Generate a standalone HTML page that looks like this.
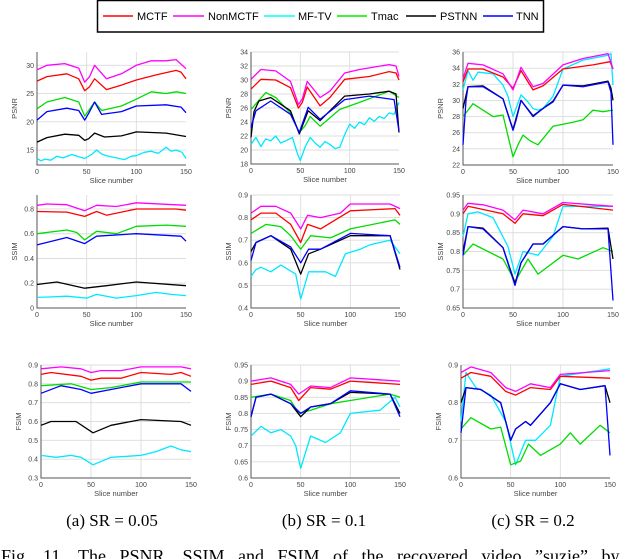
<!DOCTYPE html>
<html><head><meta charset="utf-8"><style>
html,body{margin:0;padding:0;background:#fff;width:640px;height:559px;overflow:hidden}
svg{display:block}
text{font-family:"Liberation Sans",sans-serif}
.serif{font-family:"Liberation Serif",serif}
</style></head><body>
<svg id="fig" width="640" height="559" viewBox="0 0 640 559" xmlns="http://www.w3.org/2000/svg">
<g>
<rect x="97.5" y="0.5" width="446" height="31.5" fill="#fff" stroke="#000" stroke-width="1.5"/>
<g><line x1="103" y1="16" x2="133" y2="16" stroke="#ff0000" stroke-width="1.5"/><text x="137" y="20" font-size="11">MCTF</text></g>
<g><line x1="173" y1="16" x2="204" y2="16" stroke="#ff00ff" stroke-width="1.5"/><text x="208" y="20" font-size="11">NonMCTF</text></g>
<g><line x1="264" y1="16" x2="295" y2="16" stroke="#00ffff" stroke-width="1.5"/><text x="298" y="20" font-size="11">MF-TV</text></g>
<g><line x1="337" y1="16" x2="367" y2="16" stroke="#00ee00" stroke-width="1.5"/><text x="371" y="20" font-size="11">Tmac</text></g>
<g><line x1="406" y1="16" x2="436" y2="16" stroke="#000" stroke-width="1.5"/><text x="440" y="20" font-size="11">PSTNN</text></g>
<g><line x1="483" y1="16" x2="513" y2="16" stroke="#0000ff" stroke-width="1.5"/><text x="516" y="20" font-size="11">TNN</text></g>
</g>
<text class="serif" x="112" y="526" font-size="17" text-anchor="middle">(a) SR = 0.05</text>
<text class="serif" x="324" y="526" font-size="17" text-anchor="middle">(b) SR = 0.1</text>
<text class="serif" x="533" y="526" font-size="17" text-anchor="middle">(c) SR = 0.2</text>
<text class="serif" x="1" y="562" font-size="18" word-spacing="9">Fig. 11.  The PSNR, SSIM and FSIM of the recovered video ”suzie” by</text>
</svg>
<script>
// ---- data (slice number, metric value) ----
const xTicks = [0, 50, 100, 150];
const methods = ["MCTF","NonMCTF","MF-TV","Tmac","PSTNN","TNN"];
const colors = ["#ff0000","#ff00ff","#00e8ff","#00dd00","#000000","#0000ff"];

const psnrA_MCTF = [[0,27.2],[10,28],[30,28.5],[42,27.6],[48,25.5],[53,26.2],[58,27.6],[70,25.7],[85,26.5],[100,27.4],[120,28.3],[140,29.1],[145,28.8],[150,27.6]];
const psnrA_Non = [[0,29.2],[10,30],[28,30.3],[42,29.5],[48,27],[53,28],[58,30],[70,27.6],[85,28.5],[100,30],[115,30.8],[130,30.8],[140,31],[150,29.4]];
const psnrA_MFTV = [[0,13.5],[4,13.1],[8,13.4],[14,13.2],[20,13.9],[26,13.6],[35,14.2],[42,13.8],[48,13.5],[55,14.2],[60,15],[65,14.3],[70,14],[80,13.6],[88,13.3],[95,13.9],[100,14],[108,14.6],[115,14.8],[122,14.4],[130,15.5],[135,14.8],[140,15],[146,14.6],[150,13.5]];
const psnrA_Tmac = [[0,22.3],[10,23.5],[28,24.3],[42,23.5],[48,21],[52,22],[58,23.5],[65,22],[85,22.8],[100,24],[115,25.3],[130,25],[140,25.3],[150,25]];
const psnrA_PSTNN = [[0,16.4],[10,17.2],[28,17.8],[42,17.6],[48,16.7],[52,17],[58,18],[68,17.3],[85,17.5],[100,18.2],[130,18],[150,17.4]];
const psnrA_TNN = [[0,20.3],[10,21.8],[30,22.4],[42,22],[48,20.3],[52,21.5],[58,23.5],[65,21.3],[85,21.8],[100,22.8],[130,23],[145,22.6],[150,21.6]];

const psnrB_MCTF = [[0,28.7],[10,30.1],[25,30],[40,28.9],[48,26],[52,26.8],[57,29],[70,26.3],[80,27.5],[95,30.1],[120,30.5],[140,31.2],[147,31],[150,30]];
const psnrB_Non = [[0,30.1],[10,31.5],[25,31.3],[40,29.8],[48,26.5],[52,27.3],[57,29.8],[70,27.5],[80,28.4],[95,31],[110,31.5],[140,32.2],[147,32],[150,30.5]];
const psnrB_MFTV = [[0,20.8],[5,21.8],[10,20.5],[15,21.6],[20,21.3],[25,22],[30,21],[35,21.3],[42,21.8],[47,19.5],[50,18.5],[55,20.5],[60,21.8],[65,21],[70,20.4],[75,21.2],[80,20.8],[85,20.2],[90,20.4],[95,22.2],[100,23.7],[105,23.1],[110,24],[115,23.6],[120,24.6],[125,24.1],[130,24.8],[135,24.5],[140,25.3],[145,25.1],[150,26.8]];
const psnrB_Tmac = [[0,25.8],[15,28.2],[25,27.5],[40,25.3],[49,22.5],[55,23.5],[60,24.8],[70,23.4],[90,25.8],[110,26.8],[140,28.4],[150,27.5]];
const psnrB_PSTNN = [[0,21.8],[3,25.5],[8,27],[20,27.5],[40,25.6],[49,22.3],[58,25.6],[70,24.2],[95,27.7],[120,28],[140,28.4],[147,28],[150,22.5]];
const psnrB_TNN = [[0,23.2],[5,25.6],[20,27],[40,25.1],[49,22.5],[58,26.1],[70,24.4],[95,27.2],[120,27.7],[145,27.2],[150,22.7]];

const psnrC_MCTF = [[0,32.3],[5,33.9],[20,33.9],[40,32.9],[50,31.5],[58,33.7],[70,31.3],[80,31.8],[100,33.9],[130,34.4],[147,34.8],[150,33.9]];
const psnrC_Non = [[0,32.7],[5,34.6],[20,34.4],[40,33.3],[50,31.3],[58,34.1],[70,31.7],[80,32.1],[100,34.4],[120,35.2],[145,35.8],[150,33.9]];
const psnrC_MFTV = [[0,31.3],[5,33.7],[10,32.5],[15,33.5],[30,33.3],[40,31.9],[45,30.5],[50,28],[53,29],[58,30.7],[65,29.8],[70,29],[75,28.8],[80,29],[90,30.5],[100,33.9],[120,35],[145,35.6],[148,35.8],[150,31.9]];
const psnrC_Tmac = [[0,28],[10,29.6],[30,28],[40,28.2],[50,23],[55,24.5],[60,25.7],[67,25],[75,24.5],[90,26.8],[110,27.3],[120,27.6],[130,28.8],[140,28.6],[150,28.8]];
const psnrC_PSTNN = [[0,29],[5,31.7],[20,31.8],[40,30.2],[50,26.4],[58,30],[70,28.1],[90,29.9],[100,31.9],[120,31.8],[145,32.4],[148,31.5],[150,30]];
const psnrC_TNN = [[0,24.5],[3,30],[5,31.7],[20,31.7],[40,30.2],[50,26.3],[53,27.5],[58,30],[70,28],[80,29],[90,29.8],[100,31.9],[120,31.7],[145,32.3],[148,31],[150,24.5]];

const ssimA_MCTF = [[0,0.78],[30,0.775],[48,0.74],[60,0.78],[70,0.75],[100,0.8],[140,0.8],[150,0.79]];
const ssimA_Non = [[0,0.83],[10,0.84],[30,0.835],[48,0.786],[60,0.83],[80,0.82],[100,0.85],[150,0.83]];
const ssimA_MFTV = [[0,0.086],[15,0.09],[30,0.095],[50,0.08],[60,0.11],[80,0.08],[100,0.1],[120,0.126],[135,0.11],[150,0.1]];
const ssimA_Tmac = [[0,0.6],[30,0.63],[40,0.61],[48,0.55],[60,0.62],[80,0.6],[100,0.66],[130,0.67],[150,0.66]];
const ssimA_PSTNN = [[0,0.19],[20,0.21],[48,0.16],[70,0.18],[100,0.21],[150,0.18]];
const ssimA_TNN = [[0,0.51],[30,0.57],[48,0.52],[60,0.58],[100,0.6],[145,0.58],[150,0.54]];

const ssimB_MCTF = [[0,0.79],[10,0.82],[25,0.82],[40,0.77],[50,0.69],[57,0.77],[70,0.75],[100,0.83],[145,0.84],[150,0.81]];
const ssimB_Non = [[0,0.82],[10,0.85],[25,0.85],[40,0.82],[50,0.75],[57,0.81],[70,0.8],[90,0.82],[100,0.86],[140,0.86],[150,0.84]];
const ssimB_MFTV = [[0,0.54],[5,0.57],[10,0.58],[20,0.56],[30,0.59],[45,0.55],[50,0.44],[58,0.56],[75,0.56],[85,0.54],[95,0.64],[110,0.66],[120,0.68],[140,0.7],[150,0.64]];
const ssimB_Tmac = [[0,0.73],[15,0.77],[30,0.76],[40,0.72],[50,0.66],[60,0.72],[80,0.71],[100,0.75],[145,0.79],[150,0.77]];
const ssimB_PSTNN = [[0,0.65],[5,0.69],[20,0.72],[40,0.66],[50,0.55],[58,0.64],[70,0.66],[100,0.72],[140,0.72],[150,0.57]];
const ssimB_TNN = [[0,0.61],[5,0.69],[20,0.72],[40,0.67],[50,0.6],[58,0.66],[70,0.66],[100,0.73],[140,0.72],[150,0.58]];

const ssimC_MCTF = [[0,0.9],[5,0.92],[40,0.9],[52,0.875],[60,0.9],[80,0.895],[100,0.925],[150,0.91]];
const ssimC_Non = [[0,0.91],[5,0.928],[20,0.924],[40,0.91],[52,0.884],[60,0.91],[80,0.9],[100,0.93],[150,0.92]];
const ssimC_MFTV = [[0,0.84],[5,0.9],[15,0.905],[30,0.89],[45,0.813],[52,0.74],[60,0.8],[75,0.79],[90,0.84],[100,0.92],[150,0.92]];
const ssimC_Tmac = [[0,0.79],[10,0.82],[40,0.78],[52,0.72],[65,0.78],[75,0.74],[100,0.79],[115,0.78],[140,0.81],[150,0.8]];
const ssimC_PSTNN = [[0,0.8],[5,0.866],[20,0.862],[40,0.81],[52,0.715],[58,0.77],[70,0.82],[80,0.82],[100,0.866],[120,0.86],[145,0.862],[150,0.78]];
const ssimC_TNN = [[0,0.79],[5,0.866],[20,0.86],[40,0.81],[52,0.71],[58,0.77],[70,0.82],[80,0.82],[100,0.866],[120,0.86],[145,0.86],[150,0.67]];

const fsimA_MCTF = [[0,0.85],[10,0.86],[40,0.84],[50,0.82],[60,0.83],[80,0.83],[100,0.86],[130,0.85],[140,0.86],[150,0.84]];
const fsimA_Non = [[0,0.88],[20,0.89],[40,0.88],[50,0.86],[60,0.87],[80,0.87],[100,0.89],[140,0.89],[150,0.88]];
const fsimA_MFTV = [[0,0.42],[15,0.41],[30,0.42],[40,0.41],[52,0.37],[70,0.41],[100,0.42],[115,0.44],[130,0.47],[140,0.45],[150,0.44]];
const fsimA_Tmac = [[0,0.79],[30,0.8],[50,0.77],[70,0.78],[100,0.81],[150,0.81]];
const fsimA_PSTNN = [[0,0.58],[10,0.6],[35,0.6],[52,0.54],[70,0.58],[100,0.61],[140,0.6],[150,0.58]];
const fsimA_TNN = [[0,0.75],[20,0.79],[40,0.77],[50,0.75],[70,0.77],[100,0.8],[140,0.8],[150,0.76]];

const fsimB_MCTF = [[0,0.89],[20,0.9],[40,0.88],[48,0.84],[60,0.88],[80,0.875],[100,0.9],[150,0.89]];
const fsimB_Non = [[0,0.9],[20,0.91],[40,0.89],[48,0.86],[60,0.885],[80,0.88],[100,0.91],[150,0.9]];
const fsimB_MFTV = [[0,0.73],[10,0.76],[20,0.74],[30,0.75],[40,0.73],[45,0.7],[50,0.63],[55,0.68],[60,0.73],[75,0.71],[90,0.74],[100,0.8],[130,0.81],[145,0.85],[150,0.82]];
const fsimB_Tmac = [[0,0.85],[20,0.86],[40,0.84],[48,0.8],[60,0.81],[80,0.83],[100,0.84],[140,0.86],[150,0.85]];
const fsimB_PSTNN = [[0,0.79],[5,0.85],[20,0.86],[40,0.83],[50,0.79],[60,0.82],[80,0.83],[100,0.865],[140,0.86],[150,0.8]];
const fsimB_TNN = [[0,0.79],[5,0.85],[20,0.86],[40,0.83],[50,0.8],[60,0.82],[80,0.83],[100,0.87],[140,0.86],[150,0.79]];

const fsimC_MCTF = [[0,0.865],[10,0.88],[30,0.87],[45,0.83],[55,0.82],[70,0.84],[90,0.835],[100,0.87],[150,0.865]];
const fsimC_Non = [[0,0.88],[10,0.895],[30,0.88],[45,0.84],[55,0.83],[70,0.85],[90,0.84],[100,0.875],[150,0.885]];
const fsimC_MFTV = [[0,0.75],[5,0.88],[15,0.84],[30,0.82],[45,0.75],[55,0.635],[65,0.7],[75,0.7],[90,0.74],[100,0.87],[150,0.89]];
const fsimC_Tmac = [[0,0.73],[10,0.76],[30,0.73],[40,0.735],[50,0.635],[60,0.645],[68,0.69],[80,0.66],[100,0.69],[110,0.72],[120,0.69],[140,0.74],[150,0.72]];
const fsimC_PSTNN = [[0,0.8],[5,0.84],[20,0.835],[40,0.8],[50,0.7],[55,0.73],[65,0.75],[70,0.74],[90,0.8],[100,0.85],[120,0.835],[145,0.845],[150,0.8]];
const fsimC_TNN = [[0,0.72],[5,0.84],[20,0.835],[40,0.8],[50,0.7],[55,0.73],[65,0.75],[70,0.74],[90,0.8],[100,0.85],[120,0.835],[145,0.845],[150,0.66]];

const yTicksPsnrA = [15,20,25,30];
const yTicksPsnrB = [18,20,22,24,26,28,30,32,34];
const yTicksPsnrC = [22,24,26,28,30,32,34,36];
const yTicksSsimA = [0,0.2,0.4,0.6,0.8];
const yTicksSsimB = [0.4,0.5,0.6,0.7,0.8,0.9];
const yTicksSsimC = [0.65,0.7,0.75,0.8,0.85,0.9,0.95];
const yTicksFsimA = [0.3,0.4,0.5,0.6,0.7,0.8,0.9];
const yTicksFsimB = [0.6,0.65,0.7,0.75,0.8,0.85,0.9,0.95];
const yTicksFsimC = [0.6,0.7,0.8,0.9];

const panels = [
 {id:"psnr-a",lab:"PSNR",x0:37,x1:186,y0:52,y1:165,lo:12.35,hi:32.35,ticks:yTicksPsnrA,s:[psnrA_MCTF,psnrA_Non,psnrA_MFTV,psnrA_Tmac,psnrA_PSTNN,psnrA_TNN]},
 {id:"psnr-b",lab:"PSNR",x0:251,x1:399,y0:52,y1:164,lo:18,hi:34,ticks:yTicksPsnrB,s:[psnrB_MCTF,psnrB_Non,psnrB_MFTV,psnrB_Tmac,psnrB_PSTNN,psnrB_TNN]},
 {id:"psnr-c",lab:"PSNR",x0:463,x1:613,y0:52,y1:165,lo:22,hi:36,ticks:yTicksPsnrC,s:[psnrC_MCTF,psnrC_Non,psnrC_MFTV,psnrC_Tmac,psnrC_PSTNN,psnrC_TNN]},
 {id:"ssim-a",lab:"SSIM",x0:37,x1:186,y0:195,y1:308,lo:0,hi:0.913,ticks:yTicksSsimA,s:[ssimA_MCTF,ssimA_Non,ssimA_MFTV,ssimA_Tmac,ssimA_PSTNN,ssimA_TNN]},
 {id:"ssim-b",lab:"SSIM",x0:251,x1:400,y0:195,y1:308,lo:0.4,hi:0.9,ticks:yTicksSsimB,s:[ssimB_MCTF,ssimB_Non,ssimB_MFTV,ssimB_Tmac,ssimB_PSTNN,ssimB_TNN]},
 {id:"ssim-c",lab:"SSIM",x0:463,x1:613,y0:195,y1:308,lo:0.65,hi:0.95,ticks:yTicksSsimC,s:[ssimC_MCTF,ssimC_Non,ssimC_MFTV,ssimC_Tmac,ssimC_PSTNN,ssimC_TNN]},
 {id:"fsim-a",lab:"FSIM",x0:41,x1:191,y0:365,y1:478,lo:0.3,hi:0.9,ticks:yTicksFsimA,s:[fsimA_MCTF,fsimA_Non,fsimA_MFTV,fsimA_Tmac,fsimA_PSTNN,fsimA_TNN]},
 {id:"fsim-b",lab:"FSIM",x0:251,x1:400,y0:365,y1:478,lo:0.6,hi:0.95,ticks:yTicksFsimB,s:[fsimB_MCTF,fsimB_Non,fsimB_MFTV,fsimB_Tmac,fsimB_PSTNN,fsimB_TNN]},
 {id:"fsim-c",lab:"FSIM",x0:461,x1:610,y0:365,y1:478,lo:0.6,hi:0.9,ticks:yTicksFsimC,s:[fsimC_MCTF,fsimC_Non,fsimC_MFTV,fsimC_Tmac,fsimC_PSTNN,fsimC_TNN]}
];

const NS = "http://www.w3.org/2000/svg";
const svg = document.getElementById("fig");
function mk(tag, attrs, parent){ const e=document.createElementNS(NS,tag); for(const k in attrs) e.setAttribute(k,attrs[k]); parent.appendChild(e); return e; }
const drawOrder = [2,3,4,5,0,1];
panels.forEach(p=>{
  const xs = v => p.x0 + (v-0)/(150-0)*(p.x1-p.x0);
  const ys = v => p.y1 - (v-p.lo)/(p.hi-p.lo)*(p.y1-p.y0);
  const g = mk("g",{},svg);
  
  
  p.ticks.forEach(t=>{
    const y=ys(t);
    const gl=mk("line",{x1:p.x0,x2:p.x1,y1:y,y2:y,stroke:"#dcdcdc","stroke-width":0.9},g);
    
    
    const tl=mk("text",{x:p.x0-3,y:y+2.5,"font-size":7,fill:"#444","text-anchor":"end"},g);
    tl.textContent = String(t);
    
    
  });
  xTicks.forEach(t=>{
    const x=xs(t);
    if(t>0 && t<150){
      const gl=mk("line",{x1:x,x2:x,y1:p.y0,y2:p.y1,stroke:"#dcdcdc","stroke-width":0.9},g);
      
      
    }
    const tl=mk("text",{x:x,y:p.y1+9,"font-size":7,fill:"#444","text-anchor":"middle"},g);
    tl.textContent = String(t);
    
    
  });
  const ax=mk("path",{d:`M${p.x0},${p.y0}V${p.y1}H${p.x1}`,fill:"none",stroke:"#555","stroke-width":1},g);
  
  
  const xl=mk("text",{x:(p.x0+p.x1)/2,y:p.y1+18,"font-size":7.5,fill:"#444","text-anchor":"middle"},g);
  xl.textContent="Slice number";
  
  
  const yc=(p.y0+p.y1)/2, yx=p.x0-20;
  const yl=mk("text",{x:yx,y:yc,"font-size":7.5,fill:"#444","text-anchor":"middle",transform:`rotate(-90 ${yx} ${yc})`},g);
  yl.textContent=p.lab;
  
  
  drawOrder.forEach(i=>{
    const d = p.s[i].map((pt,k)=>(k?"L":"M")+xs(pt[0]).toFixed(1)+","+ys(pt[1]).toFixed(1)).join("");
    const ln=mk("path",{d:d,fill:"none",stroke:colors[i],"stroke-width":1.3,"stroke-linejoin":"round"},g);
    
    
  });
});
</script>
</body></html>
